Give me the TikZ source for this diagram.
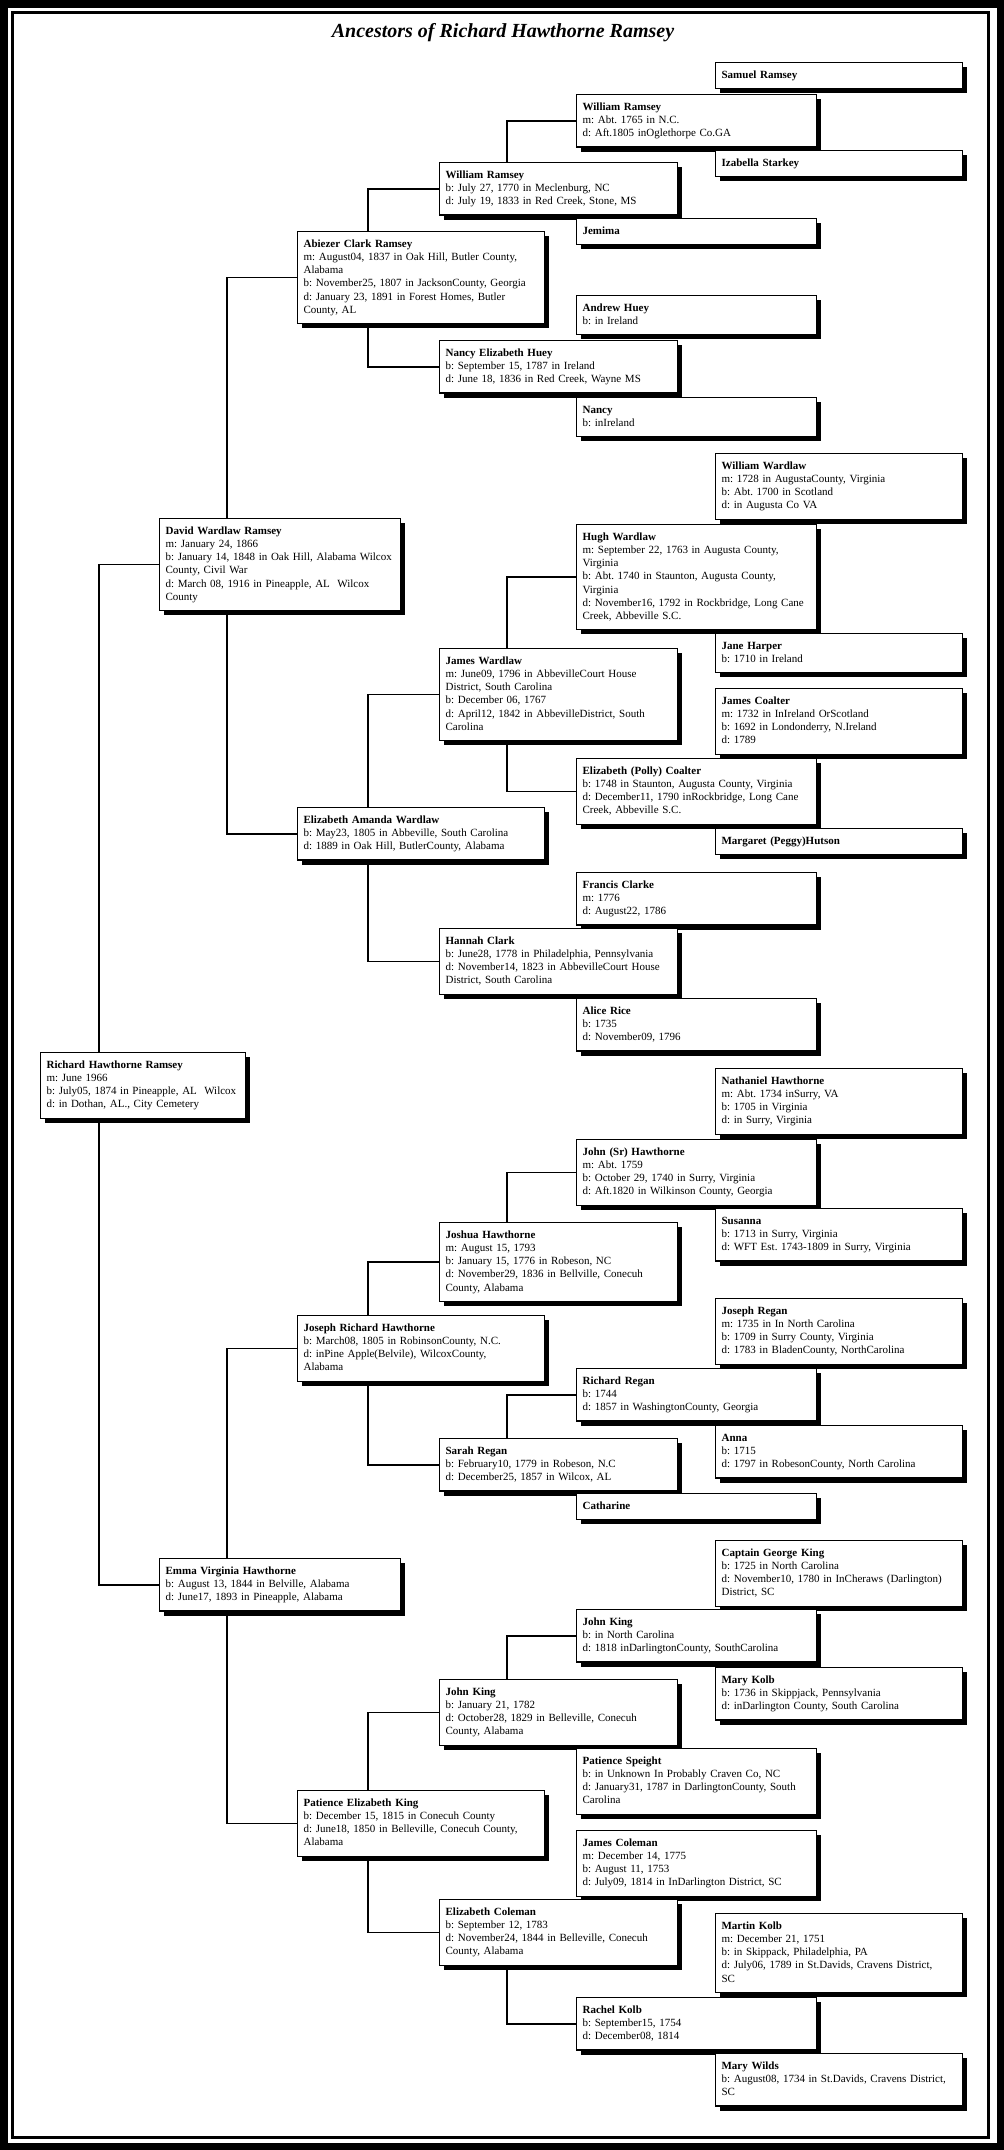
\documentclass[tikz,border=0pt]{standalone}
\usepackage{fontspec}
\setmainfont{Liberation Serif}
\usetikzlibrary{shadows}

\newcommand{\who}[2]{\strut\textbf{#1}\\#2\strut}
\newcommand{\whoonly}[1]{\strut\textbf{#1}\strut}

\tikzset{
  person/.style={draw, line width=1.2pt, fill=white, anchor=north west, align=left,
    inner xsep=6pt, inner ysep=6.4pt, font=\fontsize{11}{13.2}\selectfont\frenchspacing,
    drop shadow={shadow xshift=4.5pt, shadow yshift=-4.5pt, fill=black, opacity=1}},
  gone/.style={person, text width=192.8pt},
  gtwo/.style={person, text width=228.8pt},
  gthree/.style={person, text width=234.8pt},
  gfour/.style={person, text width=225.8pt},
  gfive/.style={person, text width=227.8pt},
  gsix/.style={person, text width=234.8pt},
  link/.style={line width=1.5pt}
}

\begin{document}
\begin{tikzpicture}[x=1pt,y=-1pt]
\useasboundingbox (0,0) rectangle (1004,2150);
\draw[line width=7.5pt] (3.75,3.75) rectangle (1000.25,2146.25);
\draw[line width=3pt] (12.5,12.5) rectangle (988.5,2137);
\node[font=\fontsize{20}{24}\selectfont\bfseries\itshape] (title) at (503,33) {Ancestors of Richard Hawthorne Ramsey};

\node[gsix] (samuel) at (715,62) {\whoonly{Samuel Ramsey}};
\node[gfive] (wramseyv) at (576,94) {\who{William Ramsey}{m: Abt. 1765 in N.C.\\d: Aft.1805 inOglethorpe Co.GA}};
\node[gsix] (izabella) at (715,150) {\whoonly{Izabella Starkey}};
\node[gfour] (wramseyiv) at (439,162) {\who{William Ramsey}{b: July 27, 1770 in Meclenburg, NC\\d: July 19, 1833 in Red Creek, Stone, MS}};
\node[gfive] (jemima) at (576,218) {\whoonly{Jemima}};
\node[gthree] (abiezer) at (297,231) {\who{Abiezer Clark Ramsey}{m: August04, 1837 in Oak Hill, Butler County,\\Alabama\\b: November25, 1807 in JacksonCounty, Georgia\\d: January 23, 1891 in Forest Homes, Butler\\County, AL}};
\node[gfive] (ahuey) at (576,295) {\who{Andrew Huey}{b: in Ireland}};
\node[gfour] (nehuey) at (439,340) {\who{Nancy Elizabeth Huey}{b: September 15, 1787 in Ireland\\d: June 18, 1836 in Red Creek, Wayne MS}};
\node[gfive] (nancy) at (576,397) {\who{Nancy}{b: inIreland}};
\node[gsix] (wwardlaw) at (715,453) {\who{William Wardlaw}{m: 1728 in AugustaCounty, Virginia\\b: Abt. 1700 in Scotland\\d: in Augusta Co VA}};
\node[gtwo] (david) at (159,518) {\who{David Wardlaw Ramsey}{m: January 24, 1866\\b: January 14, 1848 in Oak Hill, Alabama Wilcox\\County, Civil War\\d: March 08, 1916 in Pineapple, AL~ Wilcox\\County}};
\node[gfive] (hugh) at (576,524) {\who{Hugh Wardlaw}{m: September 22, 1763 in Augusta County,\\Virginia\\b: Abt. 1740 in Staunton, Augusta County,\\Virginia\\d: November16, 1792 in Rockbridge, Long Cane\\Creek, Abbeville S.C.}};
\node[gsix] (jharper) at (715,633) {\who{Jane Harper}{b: 1710 in Ireland}};
\node[gfour] (jwardlaw) at (439,648) {\who{James Wardlaw}{m: June09, 1796 in AbbevilleCourt House\\District, South Carolina\\b: December 06, 1767\\d: April12, 1842 in AbbevilleDistrict, South\\Carolina}};
\node[gsix] (jcoalter) at (715,688) {\who{James Coalter}{m: 1732 in InIreland OrScotland\\b: 1692 in Londonderry, N.Ireland\\d: 1789}};
\node[gfive] (ecoalter) at (576,758) {\who{Elizabeth (Polly) Coalter}{b: 1748 in Staunton, Augusta County, Virginia\\d: December11, 1790 inRockbridge, Long Cane\\Creek, Abbeville S.C.}};
\node[gthree] (eamanda) at (297,807) {\who{Elizabeth Amanda Wardlaw}{b: May23, 1805 in Abbeville, South Carolina\\d: 1889 in Oak Hill, ButlerCounty, Alabama}};
\node[gsix] (mhutson) at (715,828) {\whoonly{Margaret (Peggy)Hutson}};
\node[gfive] (fclarke) at (576,872) {\who{Francis Clarke}{m: 1776\\d: August22, 1786}};
\node[gfour] (hclark) at (439,928) {\who{Hannah Clark}{b: June28, 1778 in Philadelphia, Pennsylvania\\d: November14, 1823 in AbbevilleCourt House\\District, South Carolina}};
\node[gfive] (arice) at (576,998) {\who{Alice Rice}{b: 1735\\d: November09, 1796}};

\node[gone] (root) at (40,1052) {\who{Richard Hawthorne Ramsey}{m: June 1966\\b: July05, 1874 in Pineapple, AL~ Wilcox\\d: in Dothan, AL., City Cemetery}};
\node[gsix] (nathaniel) at (715,1068) {\who{Nathaniel Hawthorne}{m: Abt. 1734 inSurry, VA\\b: 1705 in Virginia\\d: in Surry, Virginia}};
\node[gfive] (johnsr) at (576,1139) {\who{John (Sr) Hawthorne}{m: Abt. 1759\\b: October 29, 1740 in Surry, Virginia\\d: Aft.1820 in Wilkinson County, Georgia}};
\node[gsix] (susanna) at (715,1208) {\who{Susanna}{b: 1713 in Surry, Virginia\\d: WFT Est. 1743-1809 in Surry, Virginia}};
\node[gfour] (joshua) at (439,1222) {\who{Joshua Hawthorne}{m: August 15, 1793\\b: January 15, 1776 in Robeson, NC\\d: November29, 1836 in Bellville, Conecuh\\County, Alabama}};
\node[gsix] (jregan) at (715,1298) {\who{Joseph Regan}{m: 1735 in In North Carolina\\b: 1709 in Surry County, Virginia\\d: 1783 in BladenCounty, NorthCarolina}};
\node[gthree] (jrhawthorne) at (297,1315) {\who{Joseph Richard Hawthorne}{b: March08, 1805 in RobinsonCounty, N.C.\\d: inPine Apple(Belvile), WilcoxCounty,\\Alabama}};
\node[gfive] (rregan) at (576,1368) {\who{Richard Regan}{b: 1744\\d: 1857 in WashingtonCounty, Georgia}};
\node[gsix] (anna) at (715,1425) {\who{Anna}{b: 1715\\d: 1797 in RobesonCounty, North Carolina}};
\node[gfour] (sregan) at (439,1438) {\who{Sarah Regan}{b: February10, 1779 in Robeson, N.C\\d: December25, 1857 in Wilcox, AL}};
\node[gfive] (catharine) at (576,1493) {\whoonly{Catharine}};
\node[gsix] (gking) at (715,1540) {\who{Captain George King}{b: 1725 in North Carolina\\d: November10, 1780 in InCheraws (Darlington)\\District, SC}};
\node[gtwo] (emma) at (159,1558) {\who{Emma Virginia Hawthorne}{b: August 13, 1844 in Belville, Alabama\\d: June17, 1893 in Pineapple, Alabama}};
\node[gfive] (jkingv) at (576,1609) {\who{John King}{b: in North Carolina\\d: 1818 inDarlingtonCounty, SouthCarolina}};
\node[gsix] (mkolb) at (715,1667) {\who{Mary Kolb}{b: 1736 in Skippjack, Pennsylvania\\d: inDarlington County, South Carolina}};
\node[gfour] (jkingiv) at (439,1679) {\who{John King}{b: January 21, 1782\\d: October28, 1829 in Belleville, Conecuh\\County, Alabama}};
\node[gfive] (pspeight) at (576,1748) {\who{Patience Speight}{b: in Unknown In Probably Craven Co, NC\\d: January31, 1787 in DarlingtonCounty, South\\Carolina}};
\node[gthree] (peking) at (297,1790) {\who{Patience Elizabeth King}{b: December 15, 1815 in Conecuh County\\d: June18, 1850 in Belleville, Conecuh County,\\Alabama}};
\node[gfive] (jcoleman) at (576,1830) {\who{James Coleman}{m: December 14, 1775\\b: August 11, 1753\\d: July09, 1814 in InDarlington District, SC}};
\node[gfour] (ecoleman) at (439,1899) {\who{Elizabeth Coleman}{b: September 12, 1783\\d: November24, 1844 in Belleville, Conecuh\\County, Alabama}};
\node[gsix] (mkolbm) at (715,1913) {\who{Martin Kolb}{m: December 21, 1751\\b: in Skippack, Philadelphia, PA\\d: July06, 1789 in St.Davids, Cravens District,\\SC}};
\node[gfive] (rkolb) at (576,1997) {\who{Rachel Kolb}{b: September15, 1754\\d: December08, 1814}};
\node[gsix] (mwilds) at (715,2053) {\who{Mary Wilds}{b: August08, 1734 in St.Davids, Cravens District,\\SC}};

\draw[link] ([xshift=59pt]root.north west) |- (david.west);
\draw[link] ([xshift=59pt]root.south west) |- (emma.west);
\draw[link] ([xshift=68pt]david.north west) |- (abiezer.west);
\draw[link] ([xshift=68pt]david.south west) |- (eamanda.west);
\draw[link] ([xshift=68pt]emma.north west) |- (jrhawthorne.west);
\draw[link] ([xshift=68pt]emma.south west) |- (peking.west);
\draw[link] ([xshift=71pt]abiezer.north west) |- (wramseyiv.west);
\draw[link] ([xshift=71pt]abiezer.south west) |- (nehuey.west);
\draw[link] ([xshift=71pt]eamanda.north west) |- (jwardlaw.west);
\draw[link] ([xshift=71pt]eamanda.south west) |- (hclark.west);
\draw[link] ([xshift=71pt]jrhawthorne.north west) |- (joshua.west);
\draw[link] ([xshift=71pt]jrhawthorne.south west) |- (sregan.west);
\draw[link] ([xshift=71pt]peking.north west) |- (jkingiv.west);
\draw[link] ([xshift=71pt]peking.south west) |- (ecoleman.west);
\draw[link] ([xshift=68pt]wramseyiv.north west) |- (wramseyv.west);
\draw[link] ([xshift=68pt]jwardlaw.north west) |- (hugh.west);
\draw[link] ([xshift=68pt]jwardlaw.south west) |- (ecoalter.west);
\draw[link] ([xshift=68pt]joshua.north west) |- (johnsr.west);
\draw[link] ([xshift=68pt]sregan.north west) |- (rregan.west);
\draw[link] ([xshift=68pt]jkingiv.north west) |- (jkingv.west);
\draw[link] ([xshift=68pt]ecoleman.south west) |- (rkolb.west);
\end{tikzpicture}
\end{document}
